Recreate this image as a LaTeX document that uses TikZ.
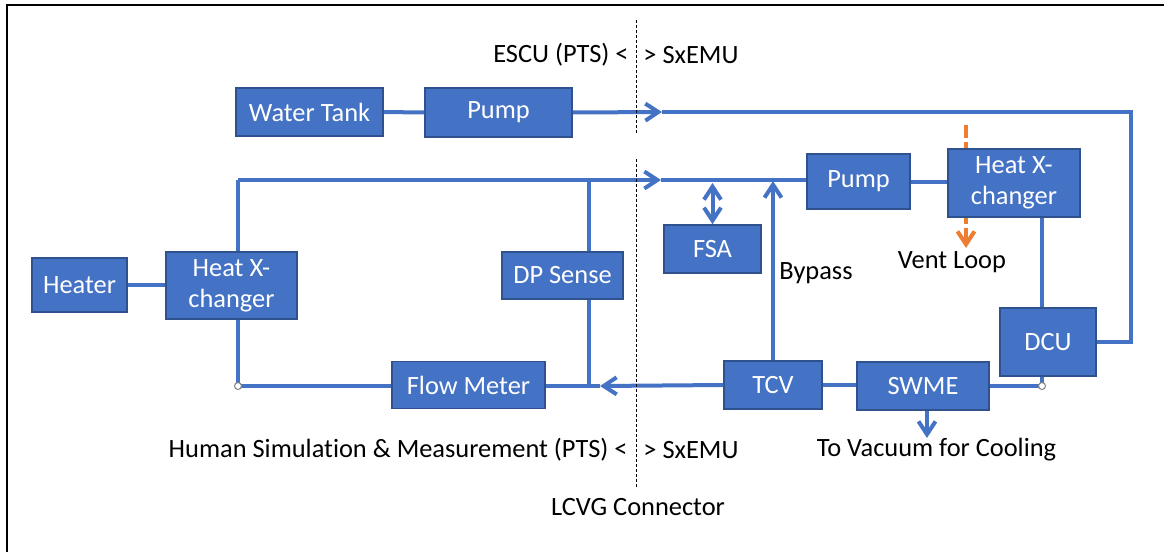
\documentclass[tikz,border=0pt]{standalone}
\usepackage{fontspec}
\setmainfont{Carlito}[Ligatures=NoCommon]
\usepackage{tikz}
\usetikzlibrary{arrows.meta,backgrounds}
\definecolor{blu}{HTML}{4472C4}
\definecolor{bdr}{HTML}{2F528F}
\definecolor{org}{HTML}{ED7D31}

\begin{document}
\begin{tikzpicture}[x=0.5pt, y=-0.5pt,
            every node/.style={font=\fontsize{13.2}{15.5}\selectfont},
            blk/.style 2 args={draw=bdr, fill=blu, text=white, line width=0.75pt,
                inner sep=0pt, align=center, minimum width=#1*0.5pt, minimum height=#2*0.5pt},
            pipe/.style={blu, line width=2pt},
            vent/.style={org, line width=2pt, dash pattern=on 6.3pt off 2.3pt},
            divider/.style={black, line width=0.5pt, dash pattern=on 1.5pt off 1pt},
            lbl/.style={inner sep=0pt, text=black},
            joint/.style={circle, draw=black!50, fill=white, line width=0.5pt,
                inner sep=0pt, minimum size=3.5pt},
            >={Straight Barb[length=6.5pt, width=8.5pt]}]
            \useasboundingbox (0,0) rectangle (1164,552);
            % frame
            \draw[line width=1pt] (7,552) -- (7,5) -- (1164,5);

            % boxes
            \node[blk={147}{48}] (tank) at (309.5,112) {Water Tank};
            \node[blk={147}{49}] (pumpA) at (498.5,112.5) {Pump};
            \node[blk={95}{54}] (heater) at (79.5,285) {Heater};
            \node[blk={131}{67}] (hxA) at (231.5,285.5) {Heat X-\\changer};
            \node[blk={121}{47}] (dp) at (562.5,275.5) {DP Sense};
            \node[blk={153}{47}] (flow) at (468.5,385) {Flow Meter};
            \node[blk={97}{48}] (fsa) at (712.5,249) {FSA};
            \node[blk={103}{55}] (pumpB) at (858.5,181.5) {Pump};
            \node[blk={132}{68}] (hxB) at (1014,183) {Heat X-\\changer};
            \node[blk={96}{68}] (dcu) at (1048,342) {DCU};
            \node[blk={98}{48}] (tcv) at (773,385) {TCV};
            \node[blk={132}{48}] (swme) at (923,386) {SWME};

            % bends and arrow points
            \coordinate (tr) at (1131,112);
            \coordinate (dr) at (1131,342);
            \coordinate (arrA) at (662,112);
            \coordinate (hxAtop) at (238,180);
            \coordinate (hxAbot) at (238,386);
            \coordinate (arrB) at (661,180);
            \coordinate (dpT) at (589,180);
            \coordinate (dpB) at (589,386);
            \coordinate (arrC) at (600,386);
            \coordinate (byp) at (773,181);
            \coordinate (dcuBot) at (1042,386);
            \coordinate (vac) at (927,438);
            \coordinate (ventT) at (966,125);
            \coordinate (ventB) at (966,248);

            % ESCU loop
            \draw[pipe] (tank) -- (pumpA);
            \draw[pipe,->] (pumpA.east) -- (arrA);
            \draw[pipe] (arrA) -- (tr) -- (dr) -- (dcu.east);

            % LCVG loop
            \draw[pipe] (heater) -- (heater -| hxA.west);
            \draw[pipe] (hxAtop |- hxA.north) -- (hxAtop);
            \draw[pipe,->] (hxAtop) -- (arrB);
            \draw[pipe] (arrB) -- (arrB -| pumpB.west);
            \draw[pipe] (dpT) -- (dpT |- dp.north);
            \draw[pipe] (dpB |- dp.south) -- (dpB);
            \draw[pipe,<->] (fsa.north |- 0,183) -- (fsa.north);
            \draw[pipe,->] (tcv.north) -- (byp);
            \draw[pipe] (pumpB.east) -- (pumpB.east -| hxB.west);
            \draw[pipe] (dcuBot |- hxB.south) -- (dcuBot |- dcu.north);
            \draw[pipe] (dcuBot |- dcu.south) -- (dcuBot) -- (swme.east |- dcuBot);
            \draw[pipe] (swme.west |- tcv) -- (tcv.east);
            \draw[pipe,->] (tcv.west) -- (arrC);
            \draw[pipe] (arrC) -- (flow.east |- arrC);
            \draw[pipe] (flow.west |- hxAbot) -- (hxAbot) -- (hxAbot |- hxA.south);
            \draw[pipe,->] (vac |- swme.south) -- (vac);
            \begin{scope}[on background layer]
                \draw[vent,->] (ventT) -- (ventB);
            \end{scope}
            \node[joint] (jA) at (hxAbot) {};
            \node[joint] (jB) at (dcuBot) {};

            % connector boundary
            \draw[divider] (636,20) -- (636,135);
            \draw[divider] (636,159) -- (636,487);

            % labels
            \node[lbl, anchor=east] (escu) at (629,55) {ESCU (PTS) <};
            \node[lbl, anchor=west] (sxA) at (643,55) {> SxEMU};
            \node[lbl, anchor=east] (human) at (628,450) {Human Simulation \& Measurement (PTS) <};
            \node[lbl, anchor=west] (sxB) at (643,450) {> SxEMU};
            \node[lbl] (lcvg) at (638,507) {LCVG Connector};
            \node[lbl, anchor=west] (bypass) at (779,273) {Bypass};
            \node[lbl] (ventloop) at (952,262) {Vent Loop};
            \node[lbl] (vacuum) at (936.5,450) {To Vacuum for Cooling};
\end{tikzpicture}
\end{document}
